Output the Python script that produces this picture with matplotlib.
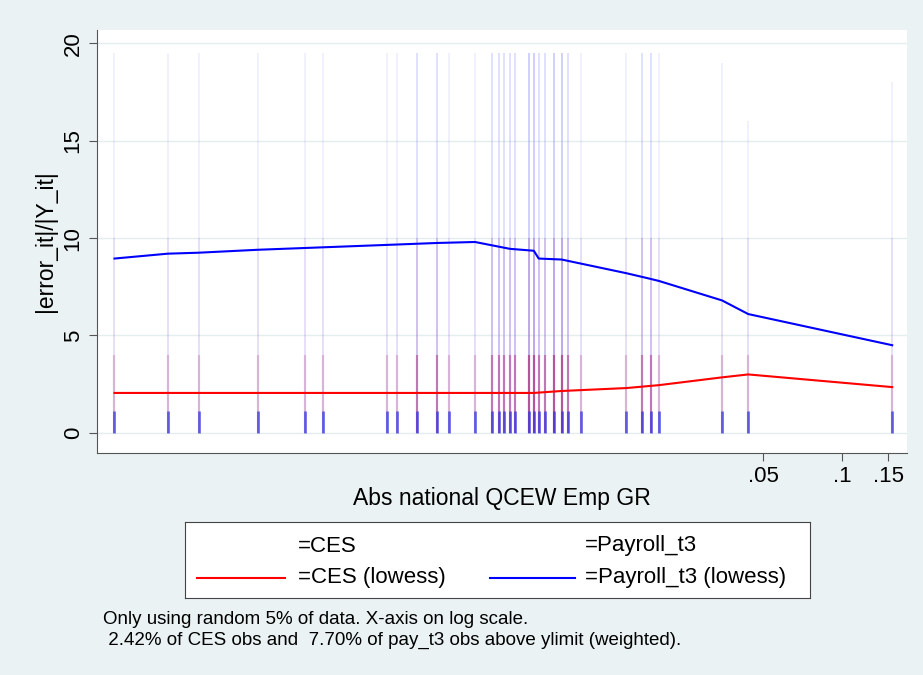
import numpy as np
import matplotlib.pyplot as plt

plt.rcParams['font.family'] = ['Liberation Sans', 'DejaVu Sans']

strip_x = [0.000168, 0.000268, 0.000352, 0.000590, 0.000896, 0.00105, 0.00183,
           0.00201, 0.00240, 0.00286, 0.00318, 0.00398, 0.00462, 0.00491,
           0.00513, 0.00540, 0.00565, 0.00638, 0.00667, 0.00696, 0.00734,
           0.00793, 0.00851, 0.00898, 0.0101, 0.0150, 0.0173, 0.0187, 0.0200,
           0.0348, 0.0438, 0.155]
strip_top = [19.5, 19.5, 19.5, 19.5, 19.5, 19.5, 19.5, 19.5, 19.5, 19.5, 19.5,
             19.5, 19.5, 19.5, 19.5, 19.5, 19.5, 19.5, 19.5, 19.5, 19.5, 19.5,
             19.5, 19.5, 19.5, 19.5, 19.5, 19.5, 19.5, 19.0, 16.0, 18.0]
strip_weight = [1, 1, 1, 1, 1, 1, 1, 1, 2, 2, 1, 1, 2, 2, 2, 2, 2, 3, 3, 2, 2,
                3, 3, 2, 1, 1, 2, 2, 1, 1, 1, 1]

blue_x = [0.000168, 0.000268, 0.000352, 0.000590, 0.00183, 0.00286, 0.00398,
          0.00540, 0.00667, 0.00696, 0.00851, 0.0150, 0.0180, 0.0200, 0.0348,
          0.0438, 0.155]
blue_y = [8.95, 9.2, 9.25, 9.4, 9.65, 9.75, 9.8, 9.45, 9.35, 8.95, 8.9, 8.2,
          7.95, 7.8, 6.8, 6.1, 4.5]
red_x = [0.000168, 0.00667, 0.00851, 0.0150, 0.0200, 0.0348, 0.0438, 0.155]
red_y = [2.05, 2.05, 2.15, 2.3, 2.45, 2.85, 3.0, 2.35]

bg = '#eaf2f3'
fig = plt.figure(figsize=(9.23, 6.75), dpi=100, facecolor=bg)
ax = fig.add_axes([0.105, 0.329, 0.878, 0.627])
ax.set_xscale('log')

for x, t, w in zip(strip_x, strip_top, strip_weight):
    ax.vlines(x, 0, t, color='#9090ff', alpha=min(0.15 * w, 0.5), lw=1.3, zorder=1)
    ax.vlines(x, 0, 10, color='#a060c0', alpha=min(0.12 * w, 0.4), lw=1.4, zorder=1)
    ax.vlines(x, 0, 4, color='#b03080', alpha=min(0.25 * w, 0.7), lw=1.6, zorder=1)
    ax.vlines(x, 0, 1.1, color='#3030e0', alpha=0.7, lw=2, zorder=1)

ax.plot(red_x, red_y, color='red', lw=1.5, zorder=3)
ax.plot(blue_x, blue_y, color='blue', lw=1.5, zorder=3)

ax.set_xlim(0.000144, 0.177)
ax.set_ylim(-1.03, 20.7)
ax.set_yticks([0, 5, 10, 15, 20])
ax.set_yticklabels(['0', '5', '10', '15', '20'], rotation=90, va='center', fontsize=16)
ax.set_xticks([0.05, 0.1, 0.15])
ax.set_xticklabels(['.05', '.1', '.15'], fontsize=16)
ax.minorticks_off()
ax.grid(axis='y', color='#e4eeee', lw=1)
ax.set_axisbelow(True)
for s in ['top', 'right']:
    ax.spines[s].set_visible(False)
for s in ['left', 'bottom']:
    ax.spines[s].set_color('#555555')
ax.tick_params(length=6, color='#555555')
ax.set_xlabel('Abs national QCEW Emp GR', fontsize=16.5, labelpad=0)
ax.set_ylabel('|error_it|/|Y_it|', fontsize=16.5)

# legend box
lax = fig.add_axes([185 / 923, 1 - 598 / 675, 625 / 923, 76 / 675])
lax.set_xlim(0, 625)
lax.set_ylim(76, 0)
lax.set_xticks([])
lax.set_yticks([])
for s in lax.spines.values():
    s.set_color('#444444')
lax.text(113, 24, '=CES', fontsize=16, va='center')
lax.text(400, 24, '=Payroll_t3', fontsize=16, va='center')
lax.plot([12, 100], [56, 56], color='red', lw=1.5)
lax.plot([305, 390], [56, 56], color='blue', lw=1.5)
lax.text(113, 56, '=CES (lowess)', fontsize=16, va='center')
lax.text(400, 56, '=Payroll_t3 (lowess)', fontsize=16, va='center')

fig.text(103 / 923, 1 - 620 / 675, 'Only using random 5% of data. X-axis on log scale.', fontsize=13.5, va='center')
fig.text(103 / 923, 1 - 640 / 675, ' 2.42% of CES obs and  7.70% of pay_t3 obs above ylimit (weighted).', fontsize=13.5, va='center')

fig.savefig('out.png', facecolor=bg)
